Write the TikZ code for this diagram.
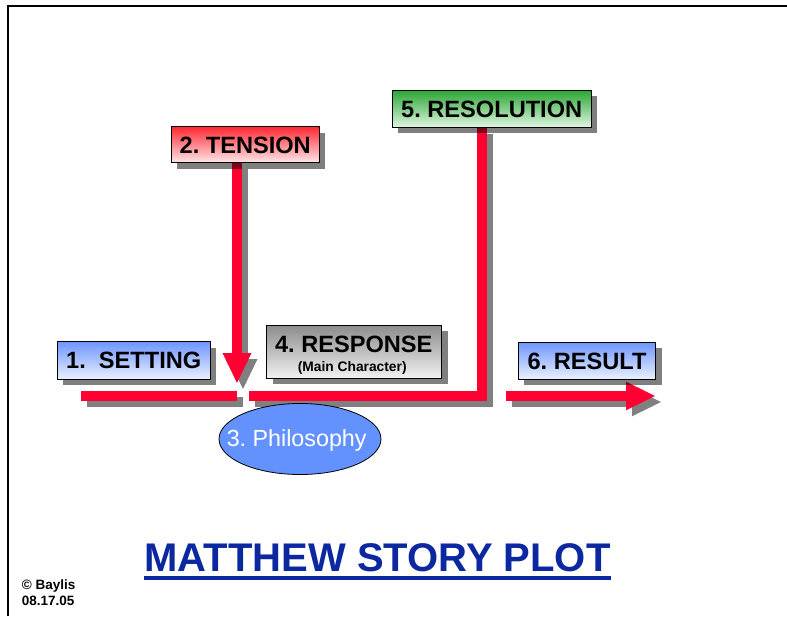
\documentclass[tikz,border=0pt]{standalone}
\usepackage{fontspec}
\setmainfont{Liberation Sans}
\usetikzlibrary{shadows,shapes.geometric,backgrounds}
\frenchspacing
\definecolor{plotred}{RGB}{255,0,51}
\definecolor{lineshadow}{RGB}{128,128,128}
\definecolor{blueT}{RGB}{110,150,255}
\definecolor{blueB}{RGB}{234,240,255}
\definecolor{redT}{RGB}{255,40,50}
\definecolor{redB}{RGB}{255,232,234}
\definecolor{greenT}{RGB}{40,165,50}
\definecolor{greenB}{RGB}{226,246,226}
\definecolor{grayT}{RGB}{140,140,140}
\definecolor{grayB}{RGB}{242,242,242}
\definecolor{philofill}{RGB}{99,146,255}
\definecolor{titleblue}{RGB}{12,40,160}
\begin{document}
\begin{tikzpicture}[x=1pt,y=-1pt,
  card/.style={draw=black, line width=0.8pt, inner sep=0pt,
    font=\bfseries\fontsize{23.6}{26}\selectfont, text height=16.9pt, text depth=0pt,
    drop shadow={shadow xshift=6pt, shadow yshift=-6pt, fill=black, opacity=0.5}},
  bluecard/.style={card, top color=blueT, bottom color=blueB},
  redcard/.style={card, top color=redT, bottom color=redB},
  greencard/.style={card, top color=greenT, bottom color=greenB},
  graycard/.style={card, top color=grayT, bottom color=grayB},
  plotline/.style={draw=plotred, line width=10pt, line join=miter},
  plothead/.style={fill=plotred},
  castshadow/.style={transform canvas={xshift=6pt, yshift=-6pt}},
  shadowline/.style={draw=lineshadow, line width=10pt, line join=miter},
  shadowhead/.style={fill=lineshadow},
  caption/.style={inner sep=0pt, anchor=base},
]
\useasboundingbox (0,0) rectangle (787,616);

% frame
\draw[line width=2pt] (8.3,616) -- (8.3,5.7) -- (787,5.7);

% labelled cards
\node[bluecard, minimum width=152.7pt, minimum height=37.6pt] (setting) at (133.7,360.5) {1.\ \ SETTING};
\node[redcard, minimum width=148.3pt, minimum height=36pt] (tension) at (245.2,144.7) {2. TENSION};
\node[greencard, minimum width=198.7pt, minimum height=37.3pt] (resolution) at (491.7,108.7) {5. RESOLUTION};
\node[graycard, minimum width=175pt, minimum height=53.3pt] (response) at (354.2,351.7) {};
\node[caption, font=\bfseries\fontsize{23.6}{26}\selectfont] (responsetitle) at (353.8,352.3) {4. RESPONSE};
\node[caption, font=\bfseries\fontsize{13.8}{16}\selectfont] (responsesub) at (352.2,371.7) {(Main Character)};
\node[bluecard, minimum width=137.3pt, minimum height=36.7pt] (result) at (587,360.7) {6. RESULT};

% philosophy ellipse
\node[ellipse, draw=black, line width=0.8pt, fill=philofill, minimum width=162pt, minimum height=71pt, inner sep=0pt] (philo) at (300,439) {};
\node[caption, text=white, font=\fontsize{23.3}{26}\selectfont] (philolabel) at (296.7,446.7) {3. Philosophy};

% path coordinates
\coordinate (s0) at (81,396);
\coordinate (s1) at (237,396);
\coordinate (tNeck) at (237,353);
\coordinate (tTip) at (237,383);
\coordinate (rCorner) at (482.3,396);
\coordinate (rEnd) at (249.3,396);
\coordinate (q0) at (506,396);
\coordinate (qNeck) at (626,396);
\coordinate (qTip) at (655,396);

\begin{scope}[on background layer]
  % cast shadows of the plot lines
  \begin{scope}[castshadow]
    \draw[shadowline] (s0) -- (s1);
    \draw[shadowline] (tension.south -| tNeck) -- (tNeck);
    \fill[shadowhead] (tNeck) ++(-14.5,0) -- ++(29,0) -- (tTip) -- cycle;
    \draw[shadowline] (resolution.south -| rCorner) -- (rCorner) -- (rEnd);
    \draw[shadowline] (q0) -- (qNeck);
    \fill[shadowhead] (qNeck) ++(0,-14.3) -- ++(0,28.6) -- (qTip) -- cycle;
  \end{scope}
  % plot lines
  \draw[plotline] (s0) -- (s1);
  \draw[plotline] (tension.south -| tNeck) -- (tNeck);
  \fill[plothead] (tNeck) ++(-14.5,0) -- ++(29,0) -- (tTip) -- cycle;
  \draw[plotline] (resolution.south -| rCorner) -- (rCorner) -- (rEnd);
  \draw[plotline] (q0) -- (qNeck);
  \fill[plothead] (qNeck) ++(0,-14.3) -- ++(0,28.6) -- (qTip) -- cycle;
\end{scope}

% title
\node[caption, text=titleblue, font=\bfseries\fontsize{40}{46}\selectfont] (title) at (377.5,571.7) {MATTHEW STORY PLOT};
\draw[titleblue, line width=4pt] ([yshift=-6pt]title.base west) -- ([yshift=-6pt]title.base east);

% credits
\node[inner sep=0pt, anchor=base west, font=\bfseries\fontsize{13.5}{16}\selectfont] (credit) at (21.7,589.3) {© Baylis};
\node[inner sep=0pt, anchor=base west, font=\bfseries\fontsize{13.5}{16}\selectfont] (creditdate) at (21.7,605.7) {08.17.05};
\end{tikzpicture}
\end{document}
